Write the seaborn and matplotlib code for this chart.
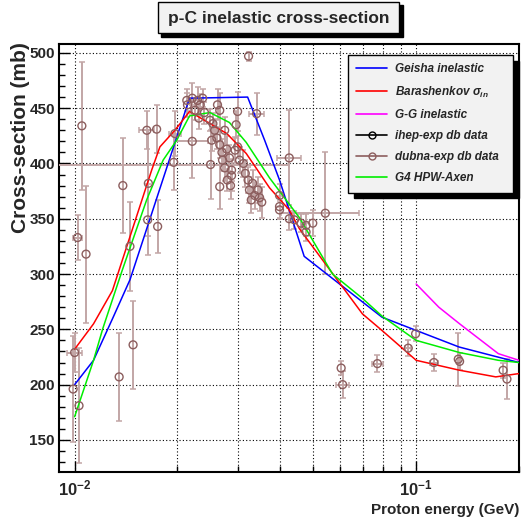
import numpy as np
import pandas as pd
import matplotlib
matplotlib.use("Agg")
import matplotlib.pyplot as plt
import seaborn as sns
from matplotlib.ticker import FixedLocator, NullFormatter, FixedFormatter
from matplotlib.patches import Rectangle
from matplotlib.lines import Line2D

# ---------------- data ----------------
geisha_x = [0.01, 0.01136, 0.01297, 0.01453, 0.0217, 0.0321, 0.036, 0.0398, 0.047, 0.0794, 0.1, 0.1336, 0.2]
geisha_y = [200, 222, 261, 295, 459, 460, 421, 385, 316, 261, 249, 234, 220]

barash_x = [0.01, 0.01136, 0.0129, 0.01681, 0.01777, 0.01966, 0.0217, 0.0279, 0.0318, 0.0372, 0.0425, 0.0455, 0.0696, 0.0794, 0.1, 0.134, 0.171, 0.2]
barash_y = [232, 255, 285, 394, 415, 430, 447, 427, 409, 378, 358, 341, 264, 249, 222, 213, 207, 210]

gg_x = [0.1, 0.1165, 0.134, 0.174, 0.2]
gg_y = [291, 270, 255, 228, 222]

axen_x = [0.01, 0.01136, 0.0121, 0.01377, 0.01625, 0.01816, 0.0199, 0.0217, 0.0249, 0.0284, 0.0318, 0.0372, 0.0455, 0.0569, 0.0696, 0.0794, 0.1, 0.134, 0.174, 0.2]
axen_y = [171, 222, 251, 303, 367, 403, 421, 443, 446, 437, 419, 387, 351, 300, 278, 262, 240, 229, 222, 220]

dubna_x = [0.0100, 0.0099, 0.0103, 0.0102, 0.0108, 0.0105, 0.01384, 0.01350, 0.01483, 0.01452,
           0.01627, 0.01738, 0.0175, 0.01644, 0.01636, 0.0195, 0.01966, 0.0221, 0.0250,
           0.0214, 0.0221, 0.0225, 0.0229, 0.0233, 0.0237, 0.0231, 0.0240, 0.0249, 0.0262,
           0.0266, 0.0254, 0.0257, 0.0261, 0.0266, 0.0270, 0.0252, 0.0275, 0.0271, 0.0279,
           0.0275, 0.0284, 0.0288, 0.0280, 0.0295, 0.0300, 0.0297, 0.0286, 0.0300, 0.0304,
           0.0312, 0.0316, 0.0288, 0.0322, 0.0325, 0.0332, 0.0337, 0.0344, 0.0329, 0.0348,
           0.0353, 0.0266, 0.0213, 0.0323, 0.0341, 0.0425, 0.0542,
           0.0398, 0.0398, 0.0398, 0.0425, 0.0440, 0.0460, 0.0476, 0.0476, 0.0498,
           0.0603, 0.0609, 0.0770, 0.0948, 0.0996, 0.1127, 0.1328, 0.1340, 0.1797, 0.1844]
dubna_y = [229, 196, 181, 333, 318, 434, 380, 207, 236, 325,
           430, 431, 343, 382, 349, 401, 427, 420, 399,
           453, 459, 448, 457, 453, 459, 441, 446, 439, 453,
           448, 436, 430, 423, 417, 410, 421, 430, 403, 413,
           396, 405, 394, 385, 412, 447, 435, 380, 415, 403,
           400, 391, 389, 385, 376, 382, 371, 376, 367, 369,
           365, 379, 457, 497, 445, 405, 355,
           371, 361, 358, 350, 349, 346, 344, 338, 346,
           215, 200, 219, 233, 246, 220, 223, 221, 213, 205]
dubna_yerr = [18, 48, 52, 20, 62, 58, 43, 40, 40, 40,
              17, 22, 24, 48, 32, 25, 20, 33, 31,
              11, 14, 9, 12, 10, 8, 10, 10, 10, 14,
              16, 10, 10, 10, 12, 12, 10, 12, 10, 12,
              12, 12, 10, 10, 12, 18, 12, 12, 10, 12,
              12, 12, 14, 12, 12, 12, 12, 12, 12, 12,
              14, 20, 10, 4, 19, 43, 55,
              10, 10, 8, 10, 8, 8, 10, 8, 12,
              6, 12, 8, 7, 7, 8, 24, 8, 7, 18]
dubna_xerr = [0.0005, 0, 0, 0.0003, 0, 0, 0, 0, 0, 0,
              0.0008, 0, 0, 0, 0, 0, 0.0008, 0.0025, 0.0175,
              0, 0, 0, 0, 0, 0, 0, 0, 0, 0,
              0, 0, 0, 0, 0, 0, 0, 0, 0, 0,
              0, 0, 0, 0, 0, 0, 0, 0, 0, 0,
              0, 0, 0, 0, 0, 0, 0, 0, 0, 0,
              0, 0, 0, 0, 0.0017, 0.0035, 0.014,
              0, 0, 0, 0, 0, 0, 0, 0, 0,
              0, 0.0025, 0.003, 0.002, 0, 0.003, 0, 0, 0, 0]

y_ticks = [150, 200, 250, 300, 350, 400, 450, 500]
x_major = [0.01, 0.1]
x_major_labels = [r"$\mathbf{10^{-2}}$", r"$\mathbf{10^{-1}}$"]

# ---------------- style ----------------
sns.set_theme(style="white")
plt.rcParams["font.family"] = ["Liberation Sans", "DejaVu Sans"]
plt.rcParams["mathtext.fontset"] = "custom"
plt.rcParams["mathtext.rm"] = "Liberation Sans"
plt.rcParams["mathtext.it"] = "Liberation Sans:italic:bold"
plt.rcParams["mathtext.bf"] = "Liberation Sans:bold"

W = 524
fig = plt.figure(figsize=(5.24, 5.24), dpi=100)
fig.patch.set_facecolor("white")
ax = fig.add_axes([59 / W, 1 - 472 / W, 460 / W, 428 / W])
ax.set_facecolor("white")

# curves
for xs, ys, col in [(geisha_x, geisha_y, "#0000ff"), (barash_x, barash_y, "#ff0000"),
                    (gg_x, gg_y, "#ff00ff"), (axen_x, axen_y, "#00ee00")]:
    sns.lineplot(x=xs, y=ys, ax=ax, color=col, lw=1.1, sort=False, estimator=None, legend=False, zorder=4)

# data
dub_col = "#8c5e5e"
err_col = "#c2a6a6"
ax.errorbar(dubna_x, dubna_y, yerr=dubna_yerr, xerr=dubna_xerr, fmt="none",
            ecolor=err_col, elinewidth=1.4, capsize=2.5, capthick=1.1, zorder=3)
df = pd.DataFrame({"x": dubna_x, "y": dubna_y})
sns.scatterplot(data=df, x="x", y="y", ax=ax, marker="o", s=32, facecolor="none",
                edgecolor=dub_col, linewidth=1.0, zorder=5, legend=False)

ax.set_xscale("log")
ax.set_xlim(0.009, 0.2)
ax.set_ylim(121, 508)

# ticks
ax.xaxis.set_major_locator(FixedLocator(x_major))
ax.xaxis.set_major_formatter(FixedFormatter(x_major_labels))
minor_x = [k * 0.01 for k in range(2, 10)] + [0.2]
ax.xaxis.set_minor_locator(FixedLocator(minor_x))
ax.xaxis.set_minor_formatter(NullFormatter())
ax.yaxis.set_major_locator(FixedLocator(y_ticks))
ax.yaxis.set_minor_locator(FixedLocator(list(range(130, 510, 10))))
ax.tick_params(axis="both", which="major", direction="in", length=8, width=1.0,
               labelsize=11, color="black")
ax.tick_params(axis="both", which="minor", direction="in", length=4.5, width=1.0, color="black")
ax.tick_params(axis="y", which="both", left=True, right=False, pad=3)
ax.tick_params(axis="x", which="both", bottom=True, top=False, pad=5, labelsize=12)
for lab in ax.get_yticklabels():
    lab.set_fontweight("bold")

ax.grid(True, axis="x", which="both", ls=(0, (1, 2)), color="black", lw=0.8)
ax.grid(True, axis="y", which="major", ls=(0, (1, 2)), color="black", lw=0.8)
ax.set_axisbelow(True)
for sp in ax.spines.values():
    sp.set_color("black")
    sp.set_linewidth(1.5)

ax.set_ylabel("Cross-section (mb)", fontsize=15, fontweight="bold", loc="top")
ax.yaxis.set_label_coords(-0.063, 1.005)
ax.set_xlabel("Proton energy (GeV)", fontsize=11, fontweight="bold", loc="right")
ax.xaxis.set_label_coords(1.0, -0.073)

# legend
handles = [
    Line2D([], [], color="#0000ff", lw=1.2),
    Line2D([], [], color="#ff0000", lw=1.2),
    Line2D([], [], color="#ff00ff", lw=1.2),
    Line2D([], [], color="black", lw=1.2, marker="o", mfc="none", mec="black", ms=5),
    Line2D([], [], color=dub_col, lw=1.2, marker="o", mfc="none", mec=dub_col, ms=5),
    Line2D([], [], color="#00ee00", lw=1.2),
]
labels = ["Geisha inelastic", r"Barashenkov $\mathregular{\sigma_{in}}$", "G-G inelastic",
          "ihep-exp db data", "dubna-exp db data", "G4 HPW-Axen"]
leg = fig.legend(handles, labels, loc="upper left",
                 bbox_to_anchor=(348 / W, 1 - 55 / W, 165 / W, 0), mode="expand",
                 bbox_transform=fig.transFigure,
                 prop={"weight": "bold", "style": "italic", "size": 8.5},
                 frameon=True, fancybox=False, framealpha=1, borderaxespad=0,
                 labelspacing=0.78, handlelength=2.6, handletextpad=0.7, borderpad=0.7,
                 shadow={"color": "black", "alpha": 1, "ox": 4, "oy": -4})
leg.get_frame().set_facecolor("#f2f2f2")
leg.get_frame().set_edgecolor("black")
leg.get_frame().set_linewidth(1.0)
leg.set_zorder(10)

# title box with shadow
fig.patches.append(Rectangle((161 / W, 1 - 37 / W), 242 / W, 32 / W, transform=fig.transFigure,
                             facecolor="black", edgecolor="black", zorder=1))
fig.patches.append(Rectangle((158 / W, 1 - 33 / W), 241 / W, 31 / W, transform=fig.transFigure,
                             facecolor="#f2f2f2", edgecolor="black", lw=1.0, zorder=2))
fig.text(279 / W, 1 - 18 / W, "p-C inelastic cross-section", ha="center", va="center",
         fontsize=12.5, fontweight="bold", zorder=3)

fig.savefig("out.png", dpi=100, facecolor="white")
